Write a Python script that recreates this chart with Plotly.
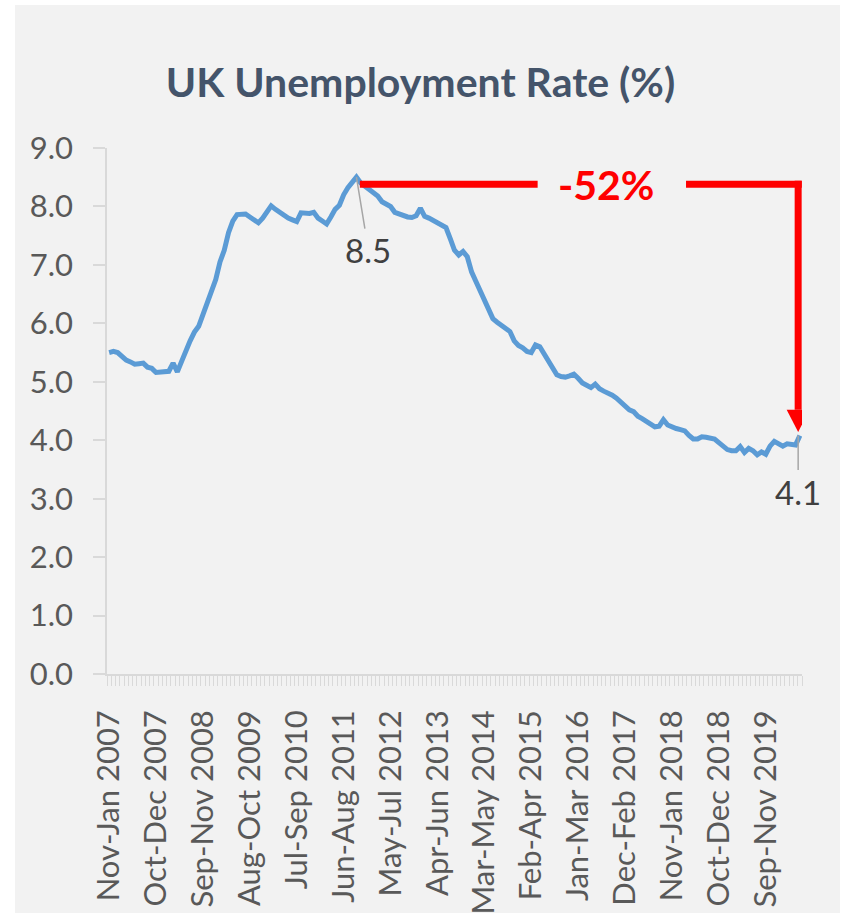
import plotly.graph_objects as go

# ---- data ----
values = [
    5.5, 5.52, 5.5, 5.42, 5.37, 5.34, 5.3, 5.31, 5.32, 5.25,
    5.23, 5.16, 5.17, 5.17, 5.18, 5.32, 5.17, 5.35, 5.55, 5.7,
    5.85, 5.95, 6.15, 6.35, 6.5, 6.75, 7.05, 7.25, 7.55, 7.75,
    7.86, 7.87, 7.87, 7.82, 7.77, 7.72, 7.8, 7.91, 8.01, 7.95,
    7.9, 7.84, 7.8, 7.77, 7.74, 7.89, 7.88, 7.88, 7.9, 7.8,
    7.75, 7.7, 7.82, 7.95, 8.02, 8.2, 8.32, 8.4, 8.5,
    8.4, 8.34, 8.28, 8.23, 8.18, 8.08, 8.05, 8.0, 7.9, 7.87,
    7.84, 7.82, 7.81, 7.84, 7.97, 7.83, 7.8, 7.76, 7.73, 7.68,
    7.64, 7.45, 7.25, 7.17, 7.23, 7.14, 6.88, 6.72, 6.55, 6.38,
    6.22, 6.08, 6.02, 5.97, 5.93, 5.86, 5.7, 5.62, 5.58, 5.52,
    5.5, 5.63, 5.6, 5.48, 5.36, 5.27, 5.12, 5.09, 5.08, 5.1,
    5.13, 5.06, 4.98, 4.94, 4.9, 4.96, 4.88, 4.84, 4.81, 4.77,
    4.72, 4.66, 4.59, 4.52, 4.49, 4.41, 4.37, 4.33, 4.28, 4.23,
    4.24, 4.35, 4.26, 4.22, 4.2, 4.18, 4.16, 4.08, 4.02, 4.02,
    4.06, 4.05, 4.04, 4.02, 3.96, 3.9, 3.84, 3.82, 3.82, 3.89,
    3.79, 3.86, 3.82, 3.75, 3.8, 3.76, 3.9, 3.98, 3.94, 3.9,
    3.94, 3.92, 3.92, 4.08,
]
tick_positions = [0, 11, 22, 33, 44, 55, 66, 77, 88, 99, 110, 121, 132, 143, 154]
tick_labels = [
    "Nov-Jan 2007", "Oct-Dec 2007", "Sep-Nov 2008", "Aug-Oct 2009",
    "Jul-Sep 2010", "Jun-Aug 2011", "May-Jul 2012", "Apr-Jun 2013",
    "Mar-May 2014", "Feb-Apr 2015", "Jan-Mar 2016", "Dec-Feb 2017",
    "Nov-Jan 2018", "Oct-Dec 2018", "Sep-Nov 2019",
]
y_ticks = [0, 1, 2, 3, 4, 5, 6, 7, 8, 9]

x = list(range(len(values)))
peak_i = max(range(len(values)), key=lambda i: values[i])
peak_v = values[peak_i]
last_i = len(values) - 1
last_v = values[last_i]
pct = round((last_v - peak_v) / peak_v * 100)

W, H = 841, 920
L, R, T, B = 107, 39, 148, 246
pw, ph = W - L - R, H - T - B

fig = go.Figure()
fig.add_trace(go.Scatter(
    x=x, y=values, mode="lines",
    line=dict(color="#5b9bd5", width=5, shape="linear"),
    hoverinfo="skip", showlegend=False,
))

RED = "#ff0000"
shapes = []
# grey chart background
shapes.append(dict(type="rect", xref="paper", yref="paper", layer="below",
                   x0=(15 - L) / pw, x1=(840 - L) / pw,
                   y0=-(913 - T - ph) / ph, y1=1 + (T - 5) / ph,
                   fillcolor="#f2f2f2", line=dict(width=0)))
hy = peak_v - 0.12
vx = last_i - 0.4
text_x = (peak_i + last_i) / 2 + 6.5
# horizontal red line (left part)
shapes.append(dict(type="line", xref="x", yref="y", x0=peak_i + 0.8, x1=text_x - 16,
                   y0=hy, y1=hy, line=dict(color=RED, width=7)))
# horizontal red line (right part)
shapes.append(dict(type="line", xref="x", yref="y", x0=text_x + 18.8, x1=vx + 0.85,
                   y0=hy, y1=hy, line=dict(color=RED, width=7)))
# vertical red line
base_v = last_v + 0.44
shapes.append(dict(type="line", xref="x", yref="y", x0=vx, x1=vx,
                   y0=hy + 0.06, y1=base_v, line=dict(color=RED, width=7)))
# arrow head (width in pixels, anchored at the vertical line)
tip_v = last_v + 0.06
shapes.append(dict(type="path", xref="x", yref="y", xsizemode="pixel", xanchor=vx,
                   path=f"M -11.5,{base_v} L 11.5,{base_v} L 0,{tip_v} Z",
                   fillcolor=RED, line=dict(color=RED, width=0)))

annotations = [
    dict(x=text_x, y=hy, xref="x", yref="y", text=f"<b>{pct}%</b>", showarrow=False,
         font=dict(family="Lato", size=41, color=RED), xanchor="center", yanchor="middle"),
    dict(x=peak_i, y=peak_v, xref="x", yref="y", text=f"{peak_v:.1f}",
         showarrow=True, arrowhead=0, arrowwidth=1.5, arrowcolor="#a6a6a6",
         ax=12, ay=73, standoff=0,
         font=dict(family="Lato", size=33, color="#404040")),
    dict(x=last_i - 0.4, y=last_v, xref="x", yref="y", text=f"{last_v:.1f}",
         showarrow=True, arrowhead=0, arrowwidth=1.5, arrowcolor="#a6a6a6",
         ax=0, ay=56, standoff=0,
         font=dict(family="Lato", size=33, color="#404040")),
]

fig.update_layout(
    width=W, height=H, autosize=False,
    margin=dict(l=L, r=R, t=T, b=B, pad=0, autoexpand=False),
    paper_bgcolor="white",
    plot_bgcolor="rgba(0,0,0,0)",
    title=dict(text="<b>UK Unemployment Rate (%)</b>", x=0.5, xref="container",
               y=1 - 83 / H, yref="container", xanchor="center", yanchor="middle",
               automargin=False,
               font=dict(family="Lato", size=41, color="#44546a")),
    shapes=shapes,
    annotations=annotations,
    showlegend=False,
)
fig.update_xaxes(
    range=[-0.5, len(values) - 0.5], automargin=False,
    tickvals=tick_positions, ticktext=tick_labels, tickangle=-90,
    ticks="", showgrid=False, zeroline=False,
    showline=True, linecolor="#d9d9d9", linewidth=1.5,
    tickfont=dict(family="Lato", size=31, color="#595959"),
    ticklabelstandoff=22,
    minor=dict(ticks="outside", ticklen=10, tickwidth=1, tickcolor="#d9d9d9",
               tick0=-0.5, dtick=1, showgrid=False),
)
fig.update_yaxes(
    range=[0, 9], tickvals=y_ticks, tickformat=".1f", automargin=False,
    ticks="outside", ticklen=12, tickwidth=1.5, tickcolor="#d9d9d9",
    showgrid=False, zeroline=False,
    showline=True, linecolor="#d9d9d9", linewidth=1.5,
    tickfont=dict(family="Lato", size=31, color="#595959"),
    ticklabelstandoff=14,
)

fig.write_html("out.html",
               config={"displayModeBar": False, "responsive": False},
               post_script="document.body.style.margin='0px';document.body.style.padding='0px';")
